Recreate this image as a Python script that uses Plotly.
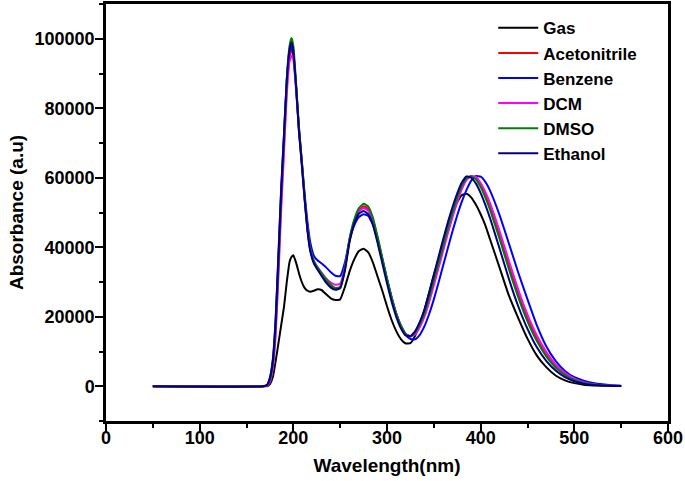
import plotly.graph_objects as go

WAVELENGTH = [50, 168, 172, 175, 178, 181, 184, 187, 190, 193, 196, 198, 200, 203, 206, 209, 212, 215, 218, 222,
              226, 230, 235, 240, 245, 250,
              255, 260, 265, 270, 275, 280, 285, 290, 295, 300, 305, 310, 315, 320, 325, 330, 335, 340, 345, 350,
              355, 360, 365, 370, 375, 380, 385, 390, 395, 400, 405, 410,
              420, 430, 440, 450, 460, 470, 480, 490, 500, 510, 520, 530, 540, 550]

GAS = [0, 0, 0, 600, 2500, 7000, 12200, 17500, 22800, 30000, 35800, 37200, 37700, 35500, 32500, 30000, 28300, 27500, 27200, 27500,
       27900, 27700, 26500, 25300, 24800, 25000,
       28500, 33000, 36500, 38900, 39600, 38500, 35600, 31500, 27500, 23000, 19000, 15800, 13500, 12300, 12400, 14500,
       18000, 22000, 27000, 32000, 36500, 41500, 45800, 49700, 53000, 55000, 55400, 54300, 52200, 49500, 46300, 42300,
       34300, 26200, 19700, 13700, 8800, 5500, 3100, 1700, 900, 450, 250, 150, 80, 50]

ACETONITRILE = [0, 0, 250, 1800, 6000, 16000, 34000, 53500, 69500, 86000, 95000, 96500, 95500, 86000, 74000, 64500, 54500, 45500, 39500, 35600,
                33700, 32100, 30300, 28900, 28100, 28500,
                33600, 42000, 47400, 50700, 51800, 51000, 47900, 42500, 36600, 30700, 25300, 20700, 17300, 15000, 14400, 15200,
                17500, 20600, 25000, 30000, 35000, 40000, 45000, 49600, 53800, 57400, 59700, 60500, 59800, 57800, 55000, 51600,
                43500, 34800, 26600, 19500, 13700, 9200, 5800, 3500, 2000, 1050, 550, 270, 130, 60]

BENZENE = [0, 0, 400, 2500, 7500, 19000, 37500, 57000, 72500, 88000, 96500, 97500, 95500, 86000, 74500, 65000, 55500, 47500, 41500, 37500,
           36200, 35400, 34200, 32800, 31800, 31700,
           35500, 42000, 46300, 48700, 49500, 49000, 46500, 41800, 36400, 30800, 25500, 20800, 17200, 14700, 13600, 13500,
           14800, 17300, 20800, 25000, 29800, 34800, 39800, 44700, 49200, 53200, 56600, 59200, 60500, 60300, 58800, 56300,
           49400, 41200, 32800, 25000, 17500, 11500, 7300, 4400, 2600, 1600, 950, 550, 300, 150]

DCM = [0, 0, 150, 1300, 5000, 14000, 31000, 50500, 67000, 84000, 93500, 95200, 94000, 85000, 73500, 64000, 54000, 45500, 39700, 36000,
       34200, 32800, 31000, 29800, 29200, 29500,
       34200, 42200, 47300, 50300, 51300, 50500, 47500, 42300, 36500, 30600, 25300, 20800, 17400, 15100, 14300, 14900,
       17000, 20000, 24200, 29000, 34000, 39000, 44000, 48700, 53000, 56800, 59400, 60500, 60200, 58500, 55900, 52700,
       44800, 36200, 27900, 20600, 14600, 9900, 6300, 3800, 2200, 1150, 600, 300, 140, 70]

DMSO = [0, 0, 300, 2000, 6500, 17000, 35000, 55000, 71000, 88500, 98000, 100200, 98000, 87000, 74000, 65000, 54500, 45600, 39800, 36000,
        34100, 32600, 30800, 29200, 28300, 28600,
        34000, 42500, 48000, 51300, 52500, 51700, 48500, 43000, 37000, 31000, 25500, 20800, 17400, 15000, 14400, 15400,
        17800, 21000, 25500, 30500, 35500, 40500, 45500, 50000, 54300, 57800, 59900, 60400, 59500, 57300, 54300, 50800,
        42600, 33800, 25700, 18700, 13000, 8600, 5400, 3200, 1800, 950, 500, 250, 120, 60]

ETHANOL = [0, 0, 400, 2300, 7000, 18000, 36500, 56000, 72000, 88000, 97000, 98900, 96500, 86000, 73500, 64000, 54000, 45000, 39000, 35300,
           33500, 31800, 29800, 28400, 27800, 28200,
           33200, 41500, 46800, 49700, 50400, 49500, 46400, 41200, 35400, 29600, 24300, 19900, 16600, 14600, 14400, 15800,
           18500, 22000, 26800, 32000, 37200, 42300, 47200, 51600, 55500, 58700, 60400, 60000, 58300, 55600, 52200, 48400,
           39800, 31000, 23100, 16500, 11200, 7300, 4500, 2600, 1450, 750, 380, 190, 100, 50]

SERIES_NAMES = ["Gas", "Acetonitrile", "Benzene", "DCM", "DMSO", "Ethanol"]
SERIES_VALUES = [GAS, ACETONITRILE, BENZENE, DCM, DMSO, ETHANOL]
SERIES_COLORS = ["#000000", "#ff0000", "#0000ff", "#ff00ff", "#008000", "#000080"]

X_TICKS = [0, 100, 200, 300, 400, 500, 600]
Y_TICKS = [0, 20000, 40000, 60000, 80000, 100000]

fig = go.Figure()
for name, vals, color in zip(SERIES_NAMES, SERIES_VALUES, SERIES_COLORS):
    fig.add_trace(go.Scatter(
        x=WAVELENGTH, y=vals, mode="lines", name=name,
        line=dict(color=color, width=2, shape="spline", smoothing=0.4),
    ))

FONT = "Liberation Sans, Arial, sans-serif"
tick_font = dict(family=FONT, size=18, color="black", weight="bold")
title_font = dict(family=FONT, size=19, color="black", weight="bold")

axis_common = dict(
    showline=True, linewidth=2.5, linecolor="black", mirror=True,
    ticks="outside", ticklen=8, tickwidth=2, tickcolor="black",
    showgrid=False, zeroline=False, tickfont=tick_font, automargin=False,
)

fig.update_layout(
    width=685, height=481,
    margin=dict(l=106, r=17, t=4, b=60),
    plot_bgcolor="white", paper_bgcolor="white",
    showlegend=True,
    legend=dict(
        x=0.689, y=0.985, xanchor="left", yanchor="top",
        itemwidth=40,
        font=dict(family=FONT, size=17, color="black", weight="bold"),
        bgcolor="rgba(0,0,0,0)", borderwidth=0,
    ),
    xaxis=dict(
        range=[0, 600], tickvals=X_TICKS, ticklabelstandoff=-9,
        minor=dict(ticks="outside", dtick=50, tick0=0, ticklen=4, tickwidth=2, tickcolor="black"),
        title=dict(text="Wavelength(nm)", font=title_font, standoff=12),
        **axis_common,
    ),
    yaxis=dict(
        range=[-10000, 110000], tickvals=Y_TICKS, tickformat="d", ticklabelstandoff=-3,
        minor=dict(ticks="outside", dtick=10000, tick0=0, ticklen=4, tickwidth=2, tickcolor="black"),
        title=dict(text="Absorbance (a.u)", font=title_font, standoff=6),
        **axis_common,
    ),
)

fig.write_html("out.html", config={"displayModeBar": False},
               post_script="document.body.style.margin='0px';")
